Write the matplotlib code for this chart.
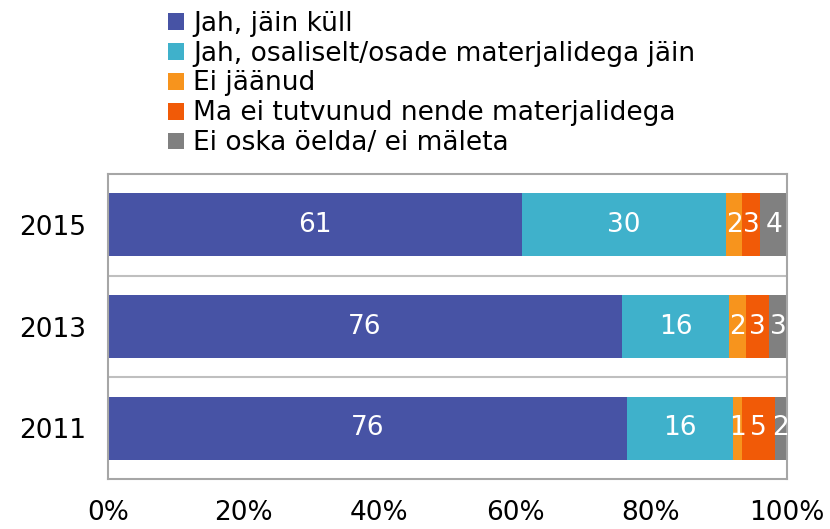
import numpy as np
from matplotlib import pyplot as plt
from matplotlib.patches import Patch

# survey years, top to bottom
years = ["2015", "2013", "2011"]

series_names = [
    "Jah, jäin küll",
    "Jah, osaliselt/osade materjalidega jäin",
    "Ei jäänud",
    "Ma ei tutvunud nende materjalidega",
    "Ei oska öelda/ ei mäleta",
]
colors = ["#4753A5", "#3FB1CB", "#F7941D", "#F15A07", "#808080"]

# shares (%) per answer, order follows years
jah_kull = [61.0, 75.7, 76.4]
jah_osaliselt = [30.1, 15.8, 15.7]
ei_jaanud = [2.3, 2.5, 1.3]
ei_tutvunud = [2.7, 3.4, 4.8]
ei_oska = [3.9, 2.6, 1.8]

# printed labels
labels_jah_kull = [61, 76, 76]
labels_jah_osaliselt = [30, 16, 16]
labels_ei_jaanud = [2, 2, 1]
labels_ei_tutvunud = [3, 3, 5]
labels_ei_oska = [4, 3, 2]

series = [jah_kull, jah_osaliselt, ei_jaanud, ei_tutvunud, ei_oska]
series_labels = [labels_jah_kull, labels_jah_osaliselt, labels_ei_jaanud,
                 labels_ei_tutvunud, labels_ei_oska]

fs = 19
fig = plt.figure(figsize=(8.30, 5.29), dpi=100)
ax = fig.add_axes([0.130, 0.0945, 0.818, 0.5765])

y = np.arange(len(years))[::-1]
left = np.zeros(len(years))
for vals, labs, col in zip(series, series_labels, colors):
    vals = np.array(vals)
    ax.barh(y, vals, left=left, height=0.62, color=col, edgecolor="none")
    for yi, l, v, lab in zip(y, left, vals, labs):
        ax.text(l + v / 2, yi, str(lab), ha="center", va="center",
                color="white", fontsize=fs)
    left = left + vals

ax.set_xlim(0, 100)
ax.set_ylim(-0.5, len(years) - 0.5)
ax.set_yticks(y)
ax.set_yticklabels(years, fontsize=fs)
ax.set_xticks(np.arange(0, 101, 20))
ax.set_xticklabels([f"{v}%" for v in range(0, 101, 20)], fontsize=fs)
ax.tick_params(axis="both", length=0)
ax.tick_params(axis="x", pad=15)
ax.tick_params(axis="y", pad=16)

for yy in [0.5, 1.5]:
    ax.axhline(yy, color="#BFBFBF", linewidth=1.5)
for s in ax.spines.values():
    s.set_color("#A6A6A6")
    s.set_linewidth(1.5)

handles = [Patch(facecolor=c, edgecolor="none") for c in colors]
fig.legend(handles, series_names, loc="upper left",
           bbox_to_anchor=(0.19, 1.0), frameon=False, fontsize=fs,
           handlelength=0.6, handleheight=0.6, handletextpad=0.35,
           labelspacing=0.15, borderaxespad=0)

fig.savefig("out.png", dpi=100)
